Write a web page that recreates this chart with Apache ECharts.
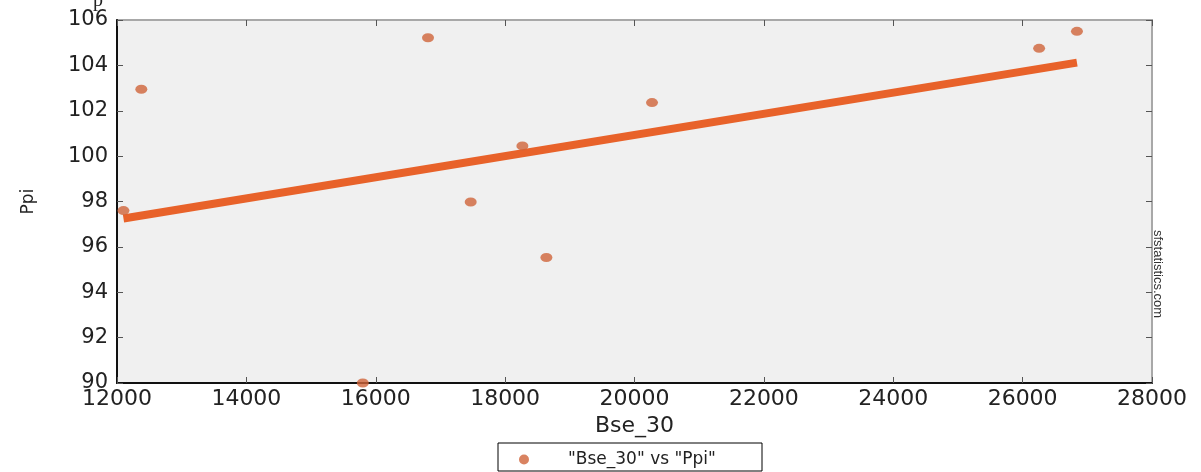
<!DOCTYPE html>
<html>
<head>
<meta charset="utf-8">
<script src="https://cdn.jsdelivr.net/npm/echarts@6/dist/echarts.min.js"></script>
<style>
html,body{margin:0;padding:0;background:#fff;}
#chart{width:1201px;height:472px;}
</style>
</head>
<body>
<div id="chart"></div>
<script>
// Data
var bseX = [12100, 12376, 15800, 16808, 17468, 18267, 18638, 20271, 26255, 26840];
var ppiY = [97.6, 102.95, 90.0, 105.22, 97.98, 100.45, 95.53, 102.36, 104.75, 105.5];
var fitX = [12100, 26840];
var fitY = [97.25, 104.12];
var xTicks = { min: 12000, max: 28000, step: 2000 };
var yTicks = { min: 90, max: 106, step: 2 };
var seriesName = '"Bse_30" vs "Ppi"';
var xName = 'Bse_30';
var yName = 'Ppi';
var watermark = 'sfstatistics.com';

var scatterData = bseX.map(function (x, i) { return [x, ppiY[i]]; });
var fitData = fitX.map(function (x, i) { return [x, fitY[i]]; });

var font = 'DejaVu Sans';
var chart = echarts.init(document.getElementById('chart'), null, { renderer: 'canvas' });
chart.setOption({
  animation: false,
  backgroundColor: '#ffffff',
  grid: {
    left: 117, right: 49, top: 20, bottom: 89,
    show: true, backgroundColor: '#f0f0f0', borderColor: '#a8a8a8', borderWidth: 2
  },
  xAxis: [{
    type: 'value', position: 'bottom',
    min: xTicks.min, max: xTicks.max, interval: xTicks.step,
    name: xName, nameLocation: 'middle', nameGap: 30,
    nameTextStyle: { fontFamily: font, fontSize: 22, color: '#222' },
    axisLine: { show: true, lineStyle: { color: '#111', width: 2 } },
    axisTick: { show: true, inside: true, length: 6, lineStyle: { color: '#555' } },
    axisLabel: { fontFamily: font, fontSize: 22, color: '#222', margin: 5,
                 formatter: function (v) { return String(v); } },
    splitLine: { show: false }
  }, {
    type: 'value', position: 'top',
    min: xTicks.min, max: xTicks.max, interval: xTicks.step,
    axisLine: { show: false },
    axisTick: { show: true, inside: true, length: 6, lineStyle: { color: '#555' } },
    axisLabel: { show: false },
    splitLine: { show: false }
  }],
  yAxis: [{
    type: 'value', position: 'left',
    min: yTicks.min, max: yTicks.max, interval: yTicks.step,
    name: yName, nameLocation: 'middle', nameGap: 80,
    nameTextStyle: { fontFamily: font, fontSize: 17, color: '#222' },
    axisLine: { show: true, lineStyle: { color: '#111', width: 2 } },
    axisTick: { show: true, inside: true, length: 6, lineStyle: { color: '#555' } },
    axisLabel: { fontFamily: font, fontSize: 21, color: '#222', margin: 9 },
    splitLine: { show: false }
  }, {
    type: 'value', position: 'right',
    min: yTicks.min, max: yTicks.max, interval: yTicks.step,
    axisLine: { show: false },
    axisTick: { show: true, inside: true, length: 6, lineStyle: { color: '#555' } },
    axisLabel: { show: false },
    splitLine: { show: false }
  }],
  legend: {
    data: [seriesName],
    left: 519, top: 451, padding: 0, z: 10,
    icon: 'circle', itemWidth: 14, itemHeight: 10,
    textStyle: { fontFamily: font, fontSize: 17, color: '#222', padding: [0, 0, 0, 32] }
  },
  graphic: [
    { type: 'rect', z: 1, shape: { x: 498, y: 443, width: 264, height: 28 },
      style: { fill: '#ffffff', stroke: '#000', lineWidth: 1 } },
    { type: 'text', x: 1164, y: 230, rotation: -Math.PI / 2, z: 5,
      style: { text: watermark, fontFamily: 'Liberation Sans', fontSize: 13, fill: '#333',
               textAlign: 'left', textVerticalAlign: 'top' } },
    { type: 'text', x: 93, y: -9, z: 5,
      style: { text: 'p', fontFamily: 'Liberation Serif', fontSize: 20, fill: '#222' } }
  ],
  series: [{
    name: 'fit', type: 'line', data: fitData,
    showSymbol: false, symbol: 'none',
    lineStyle: { color: '#e8622a', width: 8, cap: 'butt' },
    z: 3, silent: true
  }, {
    name: seriesName, type: 'scatter', data: scatterData,
    symbol: 'circle', symbolSize: [12, 9],
    itemStyle: { color: '#d0643a' },
    z: 4
  }]
});
</script>
</body>
</html>
